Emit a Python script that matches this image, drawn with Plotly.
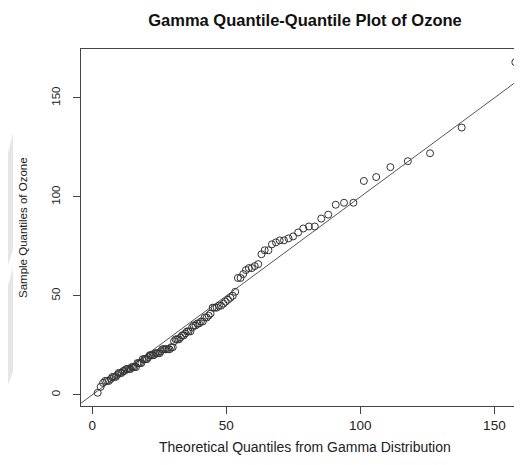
import plotly.graph_objects as go

# theoretical gamma quantiles and sorted sample values
theoretical_q = [
    2.0, 3.1, 4.0, 4.8, 5.5, 6.2, 6.9, 7.5, 8.1, 8.7,
    9.3, 9.8, 10.4, 10.9, 11.5, 12.0, 12.6, 13.1, 13.7, 14.2,
    14.7, 15.2, 15.7, 16.3, 16.8, 17.3, 17.8, 18.3, 18.8, 19.4,
    19.9, 20.4, 20.9, 21.4, 21.9, 22.5, 23.0, 23.5, 24.0, 24.5,
    25.1, 25.6, 26.1, 26.7, 27.2, 27.7, 28.3, 28.8, 29.4, 30.0,
    30.5, 31.1, 31.7, 32.3, 32.9, 33.5, 34.1, 34.7, 35.3, 35.9,
    36.6, 37.2, 37.8, 38.5, 39.2, 39.8, 40.5, 41.2, 41.9, 42.7,
    43.4, 44.1, 44.9, 45.6, 46.4, 47.2, 48.0, 48.9, 49.7, 50.6,
    51.5, 52.4, 53.3, 54.3, 55.3, 56.3, 57.3, 58.4, 59.5, 60.6,
    61.9, 63.1, 64.3, 65.7, 67.0, 68.5, 69.9, 71.5, 73.2, 74.9,
    76.8, 78.7, 80.8, 83.0, 85.4, 88.0, 90.8, 93.9, 97.4, 101.3,
    105.9, 111.2, 117.7, 126.0, 137.8, 157.8,
]
ozone = [
    1, 4, 6, 7, 7, 7, 8, 9, 9, 9,
    10, 11, 11, 11, 12, 12, 13, 13, 13, 13,
    14, 14, 14, 14, 16, 16, 16, 16, 18, 18,
    18, 18, 19, 20, 20, 20, 20, 21, 21, 21,
    21, 22, 23, 23, 23, 23, 23, 23, 24, 24,
    27, 28, 28, 28, 29, 30, 30, 31, 32, 32,
    32, 34, 35, 35, 36, 36, 37, 37, 39, 39,
    40, 41, 44, 44, 44, 45, 45, 46, 47, 48,
    49, 50, 52, 59, 59, 61, 63, 64, 64, 65,
    66, 71, 73, 73, 76, 77, 78, 78, 79, 80,
    82, 84, 85, 85, 89, 91, 96, 97, 97, 108,
    110, 115, 118, 122, 135, 168,
]
x_ticks = [0, 50, 100, 150]
y_ticks = [0, 50, 100, 150]
ref_intercept, ref_slope = 0, 1

FONT = "Liberation Sans, Arial, Helvetica, sans-serif"
# the page body adds an 8px margin, so the figure is laid out 8px up/left
OFF = 8
W, H = 522 - OFF, 465 - OFF
L, T, B = 81 - OFF, 49 - OFF, 406 - OFF   # plot box (right edge at 532 is cut off)
R_FULL = 532 - OFF

# R style 4% padding on both axes
xr = max(theoretical_q) - min(theoretical_q)
x_lo, x_hi_full = min(theoretical_q) - 0.04 * xr, max(theoretical_q) + 0.04 * xr
x_hi = x_lo + (x_hi_full - x_lo) * (W - L) / (R_FULL - L)
yr = max(ozone) - min(ozone)
y_lo, y_hi = min(ozone) - 0.04 * yr, max(ozone) + 0.04 * yr

fig = go.Figure()

fig.add_trace(go.Scatter(
    x=theoretical_q, y=ozone, mode="markers", cliponaxis=False,
    marker=dict(symbol="circle-open", size=7, color="#333333", line=dict(width=1, color="#333333")),
))

# abline(0, 1)
fig.add_shape(type="line", xref="x", yref="y",
              x0=x_lo - 10, y0=ref_intercept + ref_slope * (x_lo - 10),
              x1=x_hi + 10, y1=ref_intercept + ref_slope * (x_hi + 10),
              line=dict(color="#555555", width=1), layer="below")


def px(xp, yp):
    # screen pixels -> paper coords
    return (xp - OFF - L) / (W - L), (B - (yp - OFF)) / (B - T)


# faint watermark at the left edge
for poly in ([(8, 153), (13, 133), (13, 250), (8, 265)],
             [(8, 285), (13, 268), (13, 372), (8, 385)]):
    pts = [px(a, b) for a, b in poly]
    path = "M " + " L ".join(f"{a:.4f},{b:.4f}" for a, b in pts) + " Z"
    fig.add_shape(type="path", xref="paper", yref="paper", path=path,
                  fillcolor="#e6e6e6", line=dict(width=0), layer="below")

ax, ay = px(305, 447)
fig.add_annotation(xref="paper", yref="paper", x=ax, y=ay,
                   text="Theoretical Quantiles from Gamma Distribution", showarrow=False,
                   font=dict(family=FONT, size=14, color="#222222"), yanchor="middle")
bx, by = px(23, 228)
fig.add_annotation(xref="paper", yref="paper", x=bx, y=by,
                   text="Sample Quantiles of Ozone", showarrow=False, textangle=-90,
                   font=dict(family=FONT, size=11.5, color="#222222"), xanchor="center")

fig.update_layout(
    width=W, height=H,
    margin=dict(l=L, r=0, t=T, b=H - B, pad=0),
    paper_bgcolor="white", plot_bgcolor="white",
    showlegend=False,
    title=dict(text="<b>Gamma Quantile-Quantile Plot of Ozone</b>",
               x=(305 - OFF) / W, xref="container", xanchor="center",
               y=1 - (20 - OFF) / H, yref="container", yanchor="middle",
               font=dict(family=FONT, size=16.5, color="#111111")),
    xaxis=dict(range=[x_lo, x_hi], tickvals=x_ticks, ticks="outside", ticklen=7,
               tickcolor="#444444", showgrid=False, zeroline=False,
               showline=True, mirror=True, linecolor="#444444", linewidth=1,
               tickfont=dict(family=FONT, size=13.5, color="#222222")),
    yaxis=dict(range=[y_lo, y_hi], tickvals=y_ticks, ticks="outside", ticklen=7,
               tickcolor="#444444", showgrid=False, zeroline=False, tickangle=-90,
               showline=True, mirror=False, linecolor="#444444", linewidth=1,
               ticklabelstandoff=8,
               tickfont=dict(family=FONT, size=11.5, color="#222222")),
)

fig.write_html("out.html")
